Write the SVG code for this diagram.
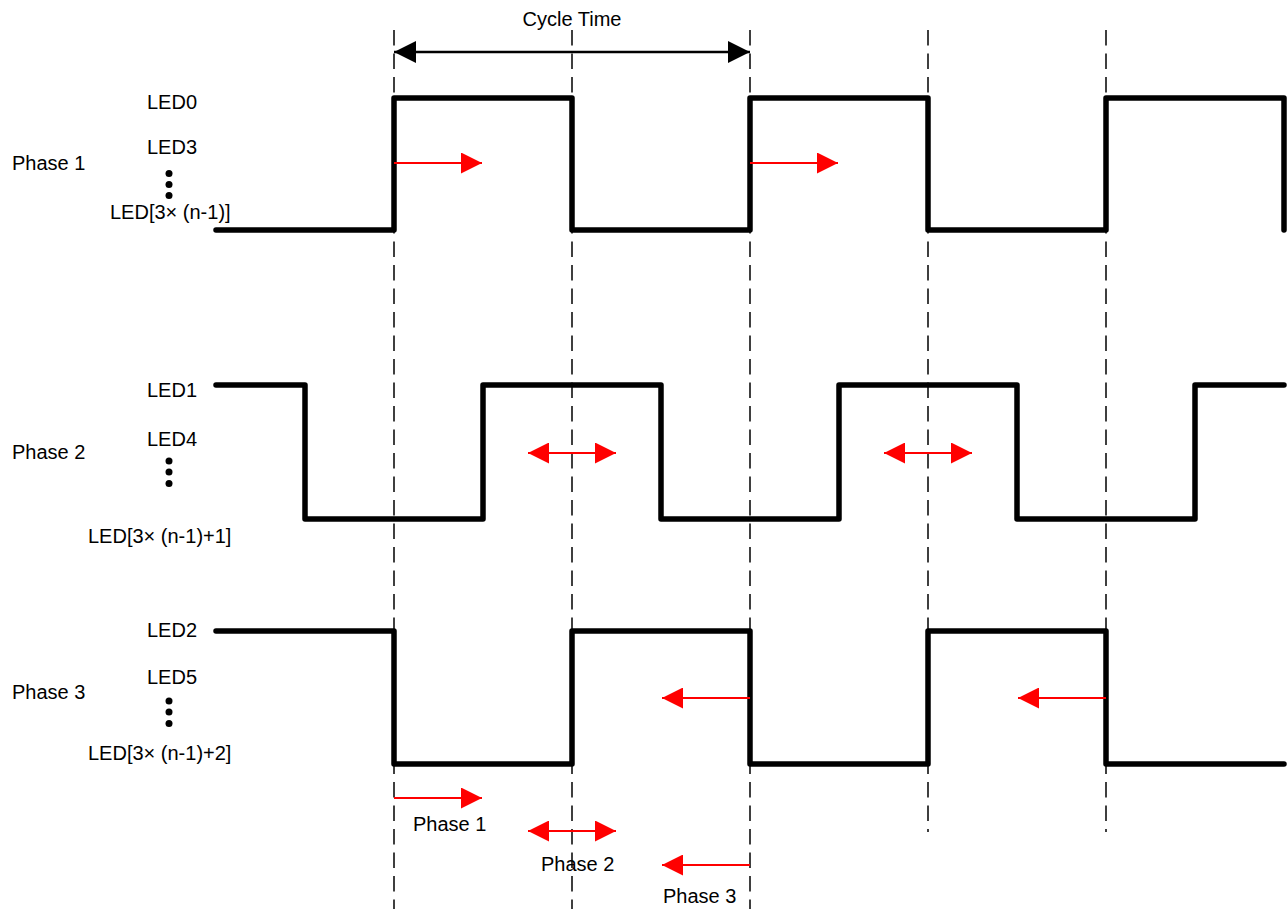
<svg xmlns="http://www.w3.org/2000/svg" width="1288" height="909" viewBox="0 0 1288 909">
<style>
text{font-family:"Liberation Sans",Arial,sans-serif;font-size:20px;fill:#000}
.dash{stroke:#000;stroke-width:1.5;stroke-dasharray:15.5 8;fill:none}
.wave{stroke:#000;stroke-width:5.5;fill:none;stroke-linecap:round;stroke-linejoin:round}
.red{stroke:#ff0000;stroke-width:2.2;fill:none}
.blk{stroke:#000;stroke-width:2.5;fill:none}
</style>
<defs>
<marker id="rh" viewBox="0 0 21 21" refX="21" refY="10.5" markerWidth="21" markerHeight="21" markerUnits="userSpaceOnUse" orient="auto-start-reverse"><path d="M0,0 L21,10.5 L0,21 Z" fill="#ff0000"/></marker>
<marker id="bh" viewBox="0 0 22 22" refX="22" refY="11" markerWidth="22" markerHeight="22" markerUnits="userSpaceOnUse" orient="auto-start-reverse"><path d="M0,0 L22,11 L0,22 Z" fill="#000"/></marker>
</defs>
<rect width="1288" height="909" fill="#fff"/>
<g id="gridlines">
<line class="dash" x1="394" y1="30" x2="394" y2="909"/>
<line class="dash" x1="572" y1="30" x2="572" y2="909"/>
<line class="dash" x1="750" y1="30" x2="750" y2="909"/>
<line class="dash" x1="928" y1="30" x2="928" y2="832"/>
<line class="dash" x1="1106" y1="30" x2="1106" y2="832"/>
</g>
<g id="cycle-time">
<line class="blk" x1="394" y1="52" x2="750" y2="52" marker-start="url(#bh)" marker-end="url(#bh)"/>
<text x="572" y="26" text-anchor="middle">Cycle Time</text>
</g>
<g id="phase1">
<path class="wave" d="M216,230 H394 V98 H572 V230 H750 V98 H928 V230 H1106 V98 H1284 V230"/>
<text x="12" y="170">Phase 1</text>
<text x="147" y="109">LED0</text>
<text x="147" y="154">LED3</text>
<circle cx="169" cy="173.5" r="3.5"/><circle cx="169" cy="184.5" r="3.5"/><circle cx="169" cy="195.5" r="3.5"/>
<text x="110" y="219">LED[3× (n-1)]</text>
</g>
<g id="phase2">
<path class="wave" d="M216,385 H305 V519 H483 V385 H661 V519 H839 V385 H1017 V519 H1195 V385 H1284"/>
<text x="12" y="459">Phase 2</text>
<text x="147" y="397">LED1</text>
<text x="147" y="446">LED4</text>
<circle cx="169" cy="461" r="3.5"/><circle cx="169" cy="472" r="3.5"/><circle cx="169" cy="483.5" r="3.5"/>
<text x="88" y="543">LED[3× (n-1)+1]</text>
</g>
<g id="phase3">
<path class="wave" d="M216,631 H394 V764 H572 V631 H750 V764 H928 V631 H1106 V764 H1284"/>
<text x="12" y="699">Phase 3</text>
<text x="147" y="637">LED2</text>
<text x="147" y="684">LED5</text>
<circle cx="169" cy="701" r="3.5"/><circle cx="169" cy="712" r="3.5"/><circle cx="169" cy="723.5" r="3.5"/>
<text x="88" y="760">LED[3× (n-1)+2]</text>
</g>
<g id="connectors">
<line class="red" x1="394" y1="163" x2="482" y2="163" marker-end="url(#rh)"/>
<line class="red" x1="750" y1="163" x2="838" y2="163" marker-end="url(#rh)"/>
<line class="red" x1="528" y1="453" x2="616" y2="453" marker-start="url(#rh)" marker-end="url(#rh)"/>
<line class="red" x1="884" y1="453" x2="972" y2="453" marker-start="url(#rh)" marker-end="url(#rh)"/>
<line class="red" x1="750" y1="698" x2="662" y2="698" marker-end="url(#rh)"/>
<line class="red" x1="1106" y1="698" x2="1018" y2="698" marker-end="url(#rh)"/>
<line class="red" x1="394" y1="798" x2="482" y2="798" marker-end="url(#rh)"/>
<line class="red" x1="528" y1="831" x2="616" y2="831" marker-start="url(#rh)" marker-end="url(#rh)"/>
<line class="red" x1="750" y1="865" x2="662" y2="865" marker-end="url(#rh)"/>
</g>
<g id="legend">
<text x="413" y="831">Phase 1</text>
<text x="541" y="871">Phase 2</text>
<text x="663" y="903">Phase 3</text>
</g>
</svg>
